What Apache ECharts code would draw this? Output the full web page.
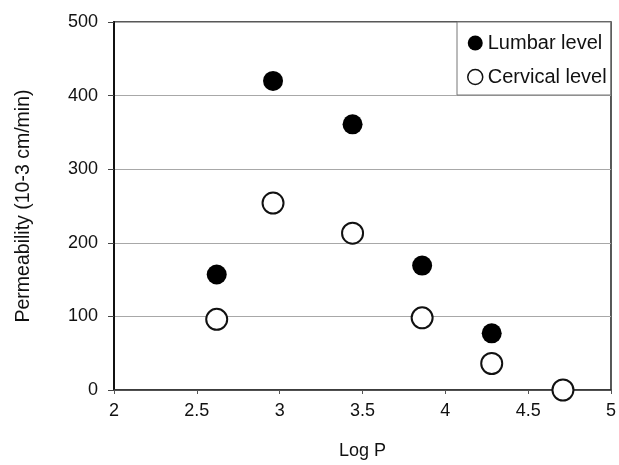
<!DOCTYPE html>
<html>
<head>
<meta charset="utf-8">
<script src="https://cdn.jsdelivr.net/npm/echarts@6/dist/echarts.min.js"></script>
<style>
  html, body { margin: 0; padding: 0; background: #fff; }
  #chart { width: 619px; height: 465px; }
</style>
</head>
<body>
<div id="chart"></div>
<script>
// Permeability against Log P at two spinal levels
const seriesNames = ['Lumbar level', 'Cervical level'];
const lumbarLogP = [2.62, 2.96, 3.44, 3.86, 4.28];
const lumbarPerm = [157, 420, 361, 169, 77];
const cervicalLogP = [2.62, 2.96, 3.44, 3.86, 4.28, 4.71];
const cervicalPerm = [96, 254, 213, 98, 36, 0];
const xTicks = [2, 2.5, 3, 3.5, 4, 4.5, 5];
const yTicks = [0, 100, 200, 300, 400, 500];

const pair = (xs, ys) => xs.map((x, i) => [x, ys[i]]);
const font = '"Liberation Sans", Arial, sans-serif';

const chart = echarts.init(document.getElementById('chart'), null, { renderer: 'canvas' });
chart.setOption({
  backgroundColor: '#ffffff',
  animation: false,
  textStyle: { fontFamily: font, color: '#111' },
  grid: {
    left: 114, right: 7, top: 22, bottom: 73,
    show: true, borderColor: '#222', borderWidth: 1.5
  },
  legend: {
    orient: 'vertical',
    left: 457, top: 22,
    padding: [11, 4, 8, 10],
    itemGap: 14,
    itemWidth: 15, itemHeight: 15,
    backgroundColor: '#fff',
    borderColor: '#777', borderWidth: 1,
    textStyle: { fontFamily: font, fontSize: 20, color: '#111', lineHeight: 20 },
    data: [
      { name: seriesNames[0], icon: 'circle' },
      { name: seriesNames[1], icon: 'circle', itemStyle: { color: '#fff', borderColor: '#111', borderWidth: 1.5 } }
    ]
  },
  xAxis: {
    type: 'value',
    min: xTicks[0], max: xTicks[xTicks.length - 1], interval: 0.5,
    name: 'Log P', nameLocation: 'middle', nameGap: 52,
    nameTextStyle: { fontFamily: font, fontSize: 18, color: '#111' },
    axisLine: { show: true, lineStyle: { color: '#333', width: 1.5 } },
    axisTick: { show: true, inside: false, length: 4, lineStyle: { color: '#555' } },
    axisLabel: { fontFamily: font, fontSize: 18, color: '#111', margin: 12 },
    splitLine: { show: false }
  },
  yAxis: {
    type: 'value',
    min: yTicks[0], max: yTicks[yTicks.length - 1], interval: 100,
    name: 'Permeability (10-3 cm/min)', nameLocation: 'middle', nameGap: 80, nameRotate: 90,
    nameTextStyle: { fontFamily: font, fontSize: 19.5, color: '#111' },
    axisLine: { show: true, lineStyle: { color: '#111', width: 2 } },
    axisTick: { show: true, inside: false, length: 6, lineStyle: { color: '#444' } },
    axisLabel: { fontFamily: font, fontSize: 18, color: '#111', margin: 16 },
    splitLine: { show: true, lineStyle: { color: '#a8a8a8', width: 1 } }
  },
  series: [
    {
      name: seriesNames[0], type: 'scatter', clip: false,
      symbol: 'circle', symbolSize: 20,
      itemStyle: { color: '#000', opacity: 1 },
      data: pair(lumbarLogP, lumbarPerm), z: 3
    },
    {
      name: seriesNames[1], type: 'scatter', clip: false,
      symbol: 'circle', symbolSize: 21,
      itemStyle: { color: '#fff', borderColor: '#111', borderWidth: 2, opacity: 1 },
      data: pair(cervicalLogP, cervicalPerm), z: 3
    }
  ]
});
</script>
</body>
</html>
